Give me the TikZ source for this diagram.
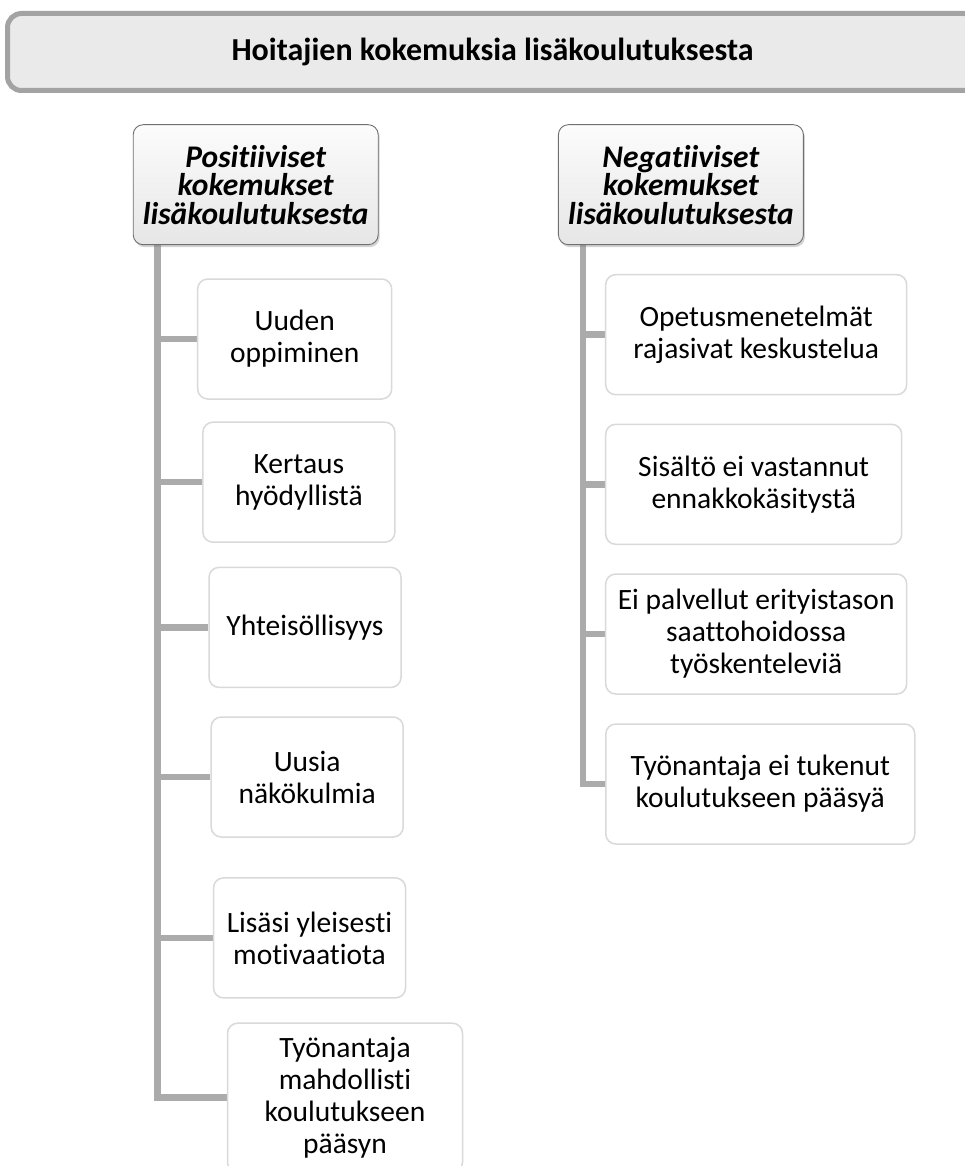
\documentclass[tikz,border=0pt]{standalone}
\usepackage{fontspec}
\setmainfont{Carlito}[Ligatures={NoCommon,NoContextual}, Contextuals=NoAlternate]
\usetikzlibrary{shadows,backgrounds}

\definecolor{barfill}{RGB}{234,234,234}
\definecolor{barline}{RGB}{163,163,163}
\definecolor{linkgray}{RGB}{171,171,171}
\definecolor{itemline}{RGB}{217,217,217}
\definecolor{headline}{RGB}{112,112,112}
\definecolor{headtop}{RGB}{252,252,252}
\definecolor{headbot}{RGB}{230,230,230}

\tikzset{
  titlebar/.style={draw=barline, line width=5pt, fill=barfill, rounded corners=14pt,
    inner sep=0pt, font=\fontsize{32}{38}\selectfont\bfseries,
    drop shadow={opacity=0.18, shadow xshift=0pt, shadow yshift=-2.5pt}},
  headbox/.style={draw=headline, line width=0.9pt, rounded corners=10pt,
    top color=headtop, bottom color=headbot, inner sep=0pt, align=center,
    minimum width=245pt, minimum height=120pt,
    font=\fontsize{31.5}{28.5}\selectfont\bfseries\itshape,
    drop shadow={opacity=0.35, shadow xshift=1.5pt, shadow yshift=-2.5pt}},
  itembox/.style={draw=itemline, line width=1.5pt, fill=white, rounded corners=10pt,
    inner sep=0pt, align=center, minimum height=120pt,
    font=\fontsize{29.5}{32}\selectfont},
  link/.style={draw=linkgray, line width=6.5pt},
}

\begin{document}
\begin{tikzpicture}[x=1pt, y=-1pt]
  \useasboundingbox (0,0) rectangle (965,1166);

  % title bar, running off the right edge
  \node[titlebar, minimum width=970pt, minimum height=77pt] (title) at (492.5,52)
    {\raisebox{2pt}{Hoitajien kokemuksia lisäkoulutuksesta}};

  % column headers
  \node[headbox] (pos) at (255.7,184.7)
    {\raisebox{3pt}{\parbox{240pt}{\centering Positiiviset\\kokemukset\\lisäkoulutuksesta}}};
  \node[headbox] (neg) at (680.9,184.7)
    {\raisebox{3pt}{\parbox{240pt}{\centering Negatiiviset\\kokemukset\\lisäkoulutuksesta}}};

  % positive items
  \node[itembox, minimum width=194pt] (p1) at (294.7,339) {Uuden\\oppiminen};
  \node[itembox, minimum width=192pt] (p2) at (298.9,482.2) {Kertaus\\hyödyllistä};
  \node[itembox, minimum width=192pt] (p3) at (305,627.4) {Yhteisöllisyys};
  \node[itembox, minimum width=192pt] (p4) at (307.2,777) {Uusia\\näkökulmia};
  \node[itembox, minimum width=192pt] (p5) at (309.5,937.9) {Lisäsi yleisesti\\motivaatiota};
  \node[itembox, minimum width=235pt, minimum height=149pt] (p6) at (345,1097.7)
    {Työnantaja\\mahdollisti\\koulutukseen\\pääsyn};

  % negative items
  \node[itembox, minimum width=301pt] (n1) at (756.2,334.7) {Opetusmenetelmät\\rajasivat keskustelua};
  \node[itembox, minimum width=296pt] (n2) at (753.7,484.3) {Sisältö ei vastannut\\ennakkokäsitystä};
  \node[itembox, minimum width=301pt] (n3) at (756.2,634) {Ei palvellut erityistason\\saattohoidossa\\työskenteleviä};
  \node[itembox, minimum width=309pt] (n4) at (760.3,784) {Työnantaja ei tukenut\\koulutukseen pääsyä};

  % connectors, behind the boxes
  \begin{scope}[on background layer]
    \foreach \c in {p1,p2,p3,p4,p5,p6}
      \draw[link] ([xshift=24.5pt]pos.south west) |- (\c.west);
    \foreach \c in {n1,n2,n3,n4}
      \draw[link] ([xshift=25pt]neg.south west) |- (\c.west);
  \end{scope}
\end{tikzpicture}
\end{document}
